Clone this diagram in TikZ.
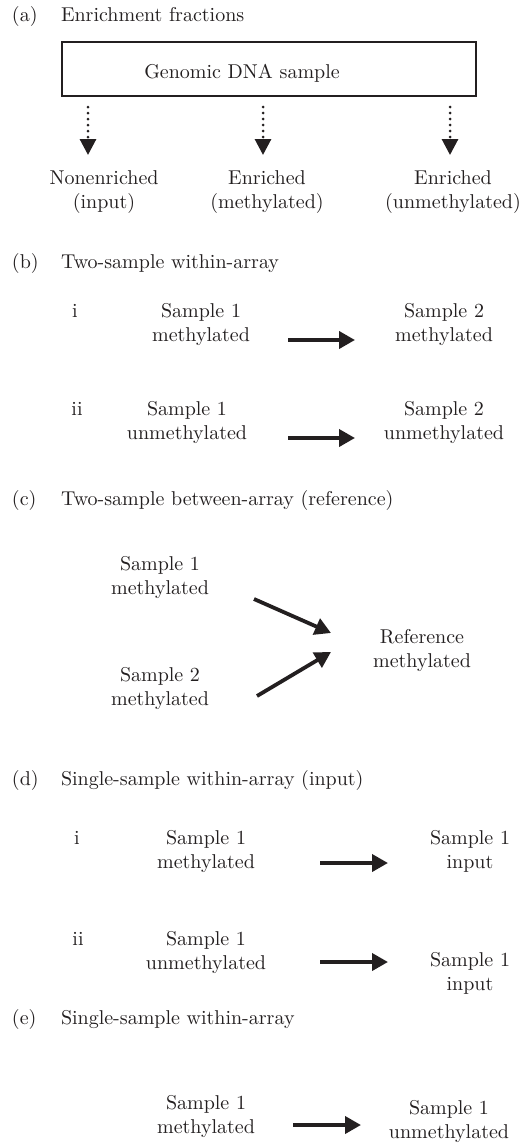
\documentclass[tikz,border=0pt]{standalone}
\usetikzlibrary{arrows.meta,calc}
\definecolor{ink}{RGB}{35,31,32}
\newcommand\twol[2]{\begin{tabular}[t]{@{}c@{}}#1\\#2\end{tabular}}
\begin{document}
\begin{tikzpicture}[x=1pt,y=-1pt,
  every node/.style={inner sep=0pt, outer sep=0pt, text=ink, font=\fontsize{10}{12}\selectfont},
  txt/.style={anchor=base, scale=2},
  ttl/.style={anchor=base west, scale=2},
  arr/.style={draw=ink, line width=3.8pt, -{Triangle[length=16pt,width=17pt]}},
  dotarr/.style={draw=ink, line width=3pt, line cap=round, dash pattern=on 0pt off 6pt, -{Triangle[length=16pt,width=16pt]}},
  boxst/.style={draw=ink, line width=1.3pt, minimum width=414pt, minimum height=54pt},
]
\useasboundingbox (0,0) rectangle (523,1143);

% (a)
\node[ttl] (la) at (12,21) {(a)};
\node[ttl] (ta) at (61,21) {Enrichment fractions};
\node[boxst] (box) at (269,69) {};
\node[txt] (gtext) at (242,78) {Genomic DNA sample};
\node[txt] (n1) at (104,184) {\twol{Nonenriched}{(input)}};
\node[txt] (n2) at (267,184) {\twol{Enriched}{(methylated)}};
\node[txt] (n3) at (453,184) {\twol{Enriched}{(unmethylated)}};
\draw[dotarr] ($(box.south -| n1.base)+(-16,11)$) -- ($(n1.base)+(-16,-29)$);
\draw[dotarr] ($(box.south -| n2.base)+(-4,11)$) -- ($(n2.base)+(-4,-29)$);
\draw[dotarr] ($(box.south -| n3.base)+(-3,11)$) -- ($(n3.base)+(-3,-29)$);

% (b)
\node[ttl] (lb) at (12,268) {(b)};
\node[ttl] (tb) at (61,268) {Two-sample within-array};
\node[txt] (bi) at (75,317) {i};
\node[txt] (b1) at (201,317) {\twol{Sample 1}{methylated}};
\node[txt] (b2) at (444,317) {\twol{Sample 2}{methylated}};
\draw[arr] ($(b1.base)+(87,23)$) -- ($(b2.base)+(-89,23)$);
\node[txt] (bii) at (77,415) {ii};
\node[txt] (b3) at (187,415) {\twol{Sample 1}{unmethylated}};
\node[txt] (b4) at (444,415) {\twol{Sample 2}{unmethylated}};
\draw[arr] ($(b3.base)+(101,23)$) -- ($(b4.base)+(-89,23)$);

% (c)
\node[ttl] (lc) at (12,505) {(c)};
\node[ttl] (tc) at (61,505) {Two-sample between-array (reference)};
\node[txt] (c1) at (160,570) {\twol{Sample 1}{methylated}};
\node[txt] (c2) at (160,681) {\twol{Sample 2}{methylated}};
\node[txt] (c3) at (422,643) {\twol{Reference}{methylated}};
\draw[arr] ($(c1.base)+(94,29)$) -- ($(c3.base)+(-91,-10)$);
\draw[arr] ($(c2.base)+(97,15)$) -- ($(c3.base)+(-91,9)$);

% (d)
\node[ttl] (ld) at (12,785) {(d)};
\node[ttl] (td) at (61,785) {Single-sample within-array (input)};
\node[txt] (di) at (77,844) {i};
\node[txt] (d1) at (206,844) {\twol{Sample 1}{methylated}};
\node[txt] (d2) at (470,844) {\twol{Sample 1}{input}};
\draw[arr] ($(d1.base)+(114,19)$) -- ($(d2.base)+(-82,19)$);
\node[txt] (dii) at (78,945) {ii};
\node[txt] (d3) at (206,945) {\twol{Sample 1}{unmethylated}};
\node[txt] (d4) at (470,966) {\twol{Sample 1}{input}};
\draw[arr] ($(d3.base)+(114,17)$) -- ($(d4.base)+(-82,-4)$);

% (e)
\node[ttl] (le) at (12,1024) {(e)};
\node[ttl] (te) at (61,1024) {Single-sample within-array};
\node[txt] (e1) at (206,1109) {\twol{Sample 1}{methylated}};
\node[txt] (e2) at (449,1114) {\twol{Sample 1}{unmethylated}};
\draw[arr] ($(e1.base)+(87,16)$) -- ($(e2.base)+(-88,11)$);
\end{tikzpicture}
\end{document}
